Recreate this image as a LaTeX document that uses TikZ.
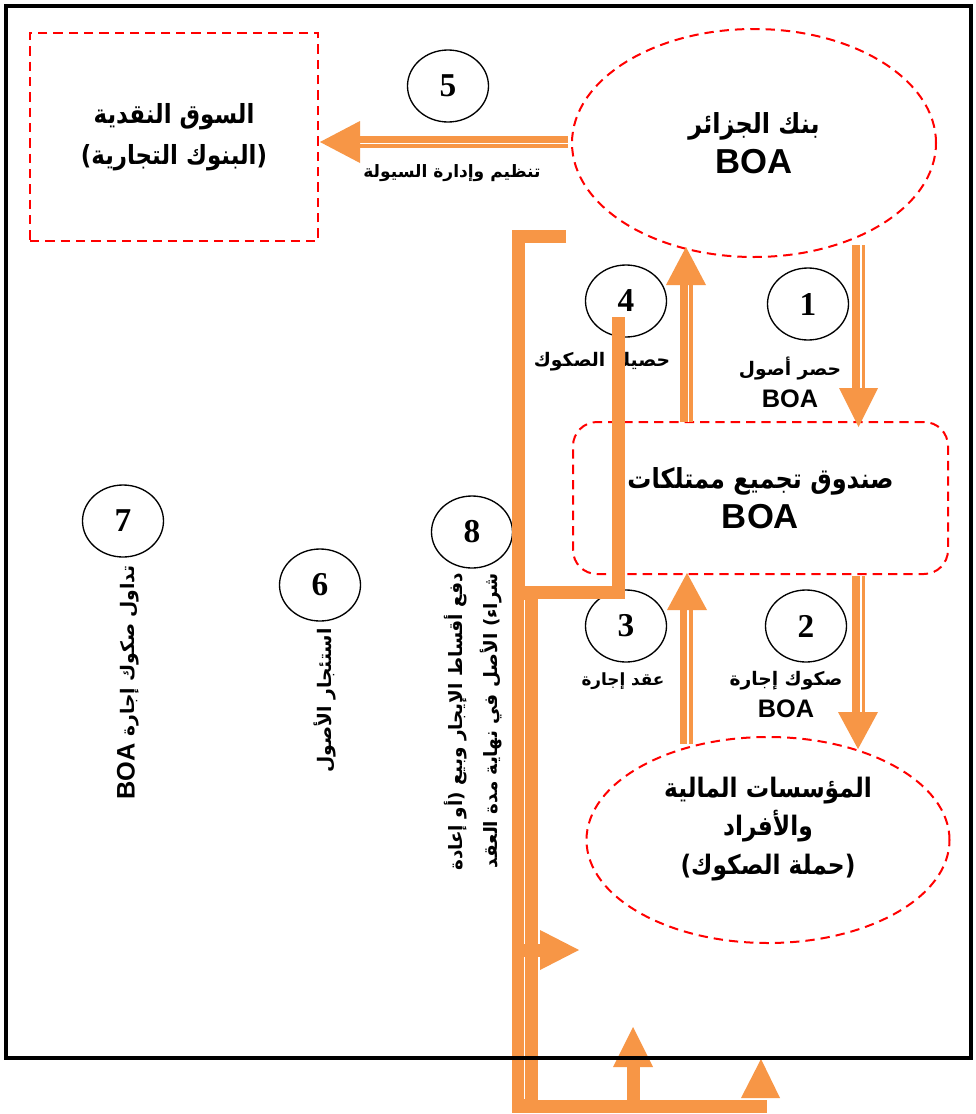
\documentclass[tikz,border=0pt]{standalone}
\usepackage{graphicx}
\usepackage{fontspec}
\setmainfont{Liberation Sans}
\newfontfamily\arabicfont[Script=Arabic]{DejaVu Sans}
\newfontfamily\numfont{Liberation Serif}
\TeXXeTstate=1
\usetikzlibrary{shapes.geometric,calc}
\definecolor{boaorange}{HTML}{F79646}
\definecolor{boared}{HTML}{FF0000}
\newcommand{\AR}[1]{{\arabicfont\bfseries\beginR #1\endR}}
\newcommand{\ARB}[1]{\scalebox{1}[1.15]{\AR{#1}}}
\newcommand{\LT}[1]{{\bfseries #1}}
\tikzset{
  reddash/.style={draw=boared, line width=1.5pt, dash pattern=on 7pt off 4.5pt},
  numcirc/.style={ellipse, draw, line width=1pt, minimum width=60.75pt, minimum height=54pt, inner sep=0pt,
     font=\numfont\bfseries\fontsize{25}{25}\selectfont},
  bigtxt/.style={align=center, font=\fontsize{18}{30}\selectfont},
  lbl/.style={align=center, font=\fontsize{14}{24}\selectfont, inner sep=0pt},
  oline/.style={draw=boaorange, line width=9.75pt},
  oshaft/.style={draw=boaorange, line width=9.75pt},
  ohead/.style={fill=boaorange},
  wsep/.style={draw=white, line width=1.1pt},
}
\begin{document}
\begin{tikzpicture}[x=0.75pt,y=-0.75pt]
\useasboundingbox (0,0) rectangle (975,1114);
\fill[white] (0,0) rectangle (975,1114);

% main shapes
\node[reddash, rectangle, minimum width=216pt, minimum height=156pt, bigtxt, font=\fontsize{17.2}{31}\selectfont] (market) at (174,137)
  {\ARB{السوق النقدية}\\\ARB{(البنوك التجارية)}};
\node[reddash, ellipse, minimum width=273pt, minimum height=171pt, bigtxt] (bank) at (754,143)
  {\ARB{بنك الجزائر}\\\LT{\fontsize{26}{30}\selectfont BOA}};
\node[reddash, rectangle, rounded corners=18pt, minimum width=281.25pt, minimum height=114pt, bigtxt] (fund) at (760.5,498)
  {\ARB{صندوق تجميع ممتلكات}\\\LT{\fontsize{26}{30}\selectfont BOA}};
\node[reddash, ellipse, minimum width=272.25pt, minimum height=154.5pt] (holders) at (768,840) {};
\node[bigtxt, font=\fontsize{17.5}{29}\selectfont] (holderstxt) at (768,829)
  {\ARB{المؤسسات المالية}\\\ARB{والأفراد}\\\ARB{(حملة الصكوك)}};

% number circles
\node[numcirc] (n5) at (448,86) {5};
\node[numcirc] (n1) at (808,304) {1};
\node[numcirc] (n4) at (626,301) {4};
\node[numcirc] (n2) at (806,626) {2};
\node[numcirc] (n3) at (626,626) {3};
\node[numcirc] (n7) at (123,521) {7};
\node[numcirc] (n6) at (320,585) {6};
\node[numcirc] (n8) at (472,532) {8};

% labels
\node[lbl, font=\fontsize{12.8}{24}\selectfont] (l5) at (452,173) {\AR{تنظيم وإدارة السيولة}};
\node[lbl] (l1) at (790,382) {\AR{حصر أصول}\\\LT{\fontsize{19}{24}\selectfont BOA}};
\node[lbl] (l4) at (602,362) {\AR{حصيلة الصكوك}};
\node[lbl] (l2) at (786,695) {\AR{صكوك إجارة}\\\LT{\fontsize{19}{24}\selectfont BOA}};
\node[lbl, font=\fontsize{12.6}{24}\selectfont] (l3) at (623,681) {\AR{عقد إجارة}};
\node[lbl, rotate=90, anchor=east] (l7) at (128,565)
  {\AR{تداول صكوك إجارة \beginL{\rmfamily\bfseries\fontsize{19}{24}\selectfont BOA}\endL}};
\node[lbl, rotate=90, anchor=east] (l6) at (325,628) {\AR{استئجار الأصول}};
\node[lbl, rotate=90, anchor=east, align=right, font=\fontsize{13.8}{26}\selectfont] (l8) at (473,573)
  {\AR{دفع أقساط الإيجار وبيع (أو إعادة}\\\AR{شراء) الأصل في نهاية مدة العقد}};

% arrow 5 (bank -> market)
\coordinate (a5s) at (568,142);
\coordinate (a5e) at (358,142);
\draw[oshaft, line width=9pt] (a5s) -- (a5e);
\draw[wsep] ($(a5s)+(0,1.5)$) -- ($(a5e)+(0,1.5)$);
\fill[ohead] (320,142) -- (360,121) -- (360,163) -- cycle;

% arrow 1 (bank -> fund)
\coordinate (a1s) at (858.5,245);
\coordinate (a1e) at (858.5,390);
\draw[oshaft] (a1s) -- (a1e);
\draw[wsep] ($(a1s)+(2.5,0)$) -- ($(a1e)+(2.5,0)$);
\fill[ohead] (839,388) -- (878,388) -- (858.5,427) -- cycle;

% arrow 4 (fund -> bank)
\coordinate (a4s) at (686.5,422);
\coordinate (a4e) at (686.5,284);
\draw[oshaft] (a4s) -- (a4e);
\draw[wsep] ($(a4s)+(2,0)$) -- ($(a4e)+(2,0)$);
\fill[ohead] (666,285) -- (706,285) -- (686,247) -- cycle;

% arrow 2 (fund -> holders)
\coordinate (a2s) at (858.5,576);
\coordinate (a2e) at (858.5,714);
\draw[oshaft] (a2s) -- (a2e);
\draw[wsep] ($(a2s)+(2.5,0)$) -- ($(a2e)+(2.5,0)$);
\fill[ohead] (838,712) -- (878,712) -- (858,749) -- cycle;

% arrow 3 (holders -> fund)
\coordinate (a3s) at (686,744);
\coordinate (a3e) at (686,608);
\draw[oshaft] (a3s) -- (a3e);
\draw[wsep] ($(a3s)+(2,0)$) -- ($(a3e)+(2,0)$);
\fill[ohead] (667,610) -- (707,610) -- (687,573) -- cycle;

% bracket structure (6, 7, 8)
\coordinate (bt) at (566,236.5);
\coordinate (b8) at (618.5,317);
\coordinate (bend) at (767,1106);
\draw[oline, line join=miter] (bt) -- (518,236.5) -- (518,1106) -- (bend);
\draw[oline, line join=miter] (b8) -- (618.5,592.5) -- (531.5,592.5) -- (531.5,1106);
\draw[wsep, line width=0.8pt] (524.5,600) -- (524.5,1099);
% right arrow towards holders
\coordinate (rs) at (512,950);
\coordinate (re) at (545,950);
\draw[oline] (rs) -- (re);
\fill[ohead] (540,930) -- (540,970) -- (579,950) -- cycle;
% arrow 6 up
\coordinate (u6s) at (633,1106);
\coordinate (u6e) at (633,1065);
\draw[oshaft] (u6s) -- (u6e);
\fill[ohead] (613,1067) -- (653,1067) -- (633,1027) -- cycle;
% arrow 7 up
\fill[ohead] (741,1098) -- (780,1098) -- (761,1059) -- cycle;

% outer frame
\draw[line width=2.4pt] (6,6) rectangle (971,1058);
\end{tikzpicture}
\end{document}
